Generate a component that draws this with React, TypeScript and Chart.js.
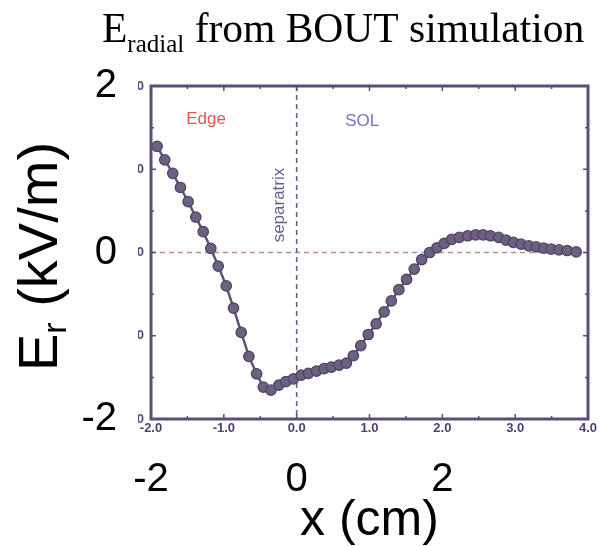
import { useEffect, useRef } from 'react';
import { Chart, registerables } from 'chart.js';

Chart.register(...registerables);

// ---- data ----
const xPositions = [
  -1.916, -1.811, -1.701, -1.596, -1.49, -1.385, -1.283, -1.179, -1.077, -0.967,
  -0.867, -0.761, -0.656, -0.55, -0.458, -0.353, -0.245, -0.149, -0.045, 0.062,
  0.161, 0.272, 0.376, 0.477, 0.582, 0.683, 0.779, 0.88, 0.983, 1.091,
  1.201, 1.3, 1.403, 1.509, 1.614, 1.716, 1.826, 1.926, 2.026, 2.128,
  2.233, 2.348, 2.458, 2.561, 2.662, 2.774, 2.875, 2.975, 3.081, 3.187,
  3.288, 3.393, 3.494, 3.6, 3.714, 3.838,
];
const erValues = [
  1.276, 1.113, 0.951, 0.781, 0.611, 0.425, 0.25, 0.049, -0.163, -0.401,
  -0.669, -0.96, -1.248, -1.457, -1.616, -1.653, -1.592, -1.552, -1.519, -1.473,
  -1.451, -1.424, -1.394, -1.376, -1.352, -1.33, -1.24, -1.119, -0.985, -0.856,
  -0.713, -0.58, -0.446, -0.324, -0.199, -0.085, 0.0, 0.057, 0.109, 0.158,
  0.182, 0.201, 0.212, 0.212, 0.201, 0.182, 0.149, 0.122, 0.101, 0.08,
  0.068, 0.052, 0.04, 0.032, 0.024, 0.007,
];
const outerXTicks = [-2, 0, 2];
const outerYTicks = [-2, 0, 2];
const innerXTicks = [-2, -1, 0, 1, 2, 3, 4];
const innerXTickLabels = ['-2.0', '-1.0', '0.0', '1.0', '2.0', '3.0', '4.0'];
const innerYTicks = [2, 1, 0, -1, -2];
const innerYTickLabels = ['2.0', '1.0', '0.0', '-1.0', '-2.0'];
const minorXTicks = [-1.5, -0.5, 0.5, 1.5, 2.5, 3.5];
const minorYTicks = [1.5, 0.5, -0.5, -1.5];
const regionLabels = ['Edge', 'SOL'];
const regionLabelX = [-1.244, 0.9];
const regionLabelY = [1.6, 1.57];
const regionLabelColors = ['#e5584f', '#7b70c8'];
const separatrixText = 'separatrix';
const separatrixX = -0.24;
const separatrixY = 0.57;

const SANS = '"Liberation Sans", Arial, sans-serif';
const SERIF = '"Liberation Serif", "Times New Roman", serif';
const FRAME = '#5a4d78';

const decorPlugin = {
  id: 'decor',
  beforeDatasetsDraw(chart: any) {
    const { ctx, chartArea: a, scales } = chart;
    const x = scales.x;
    const y = scales.y;
    ctx.save();
    ctx.setLineDash([5, 4]);
    ctx.lineWidth = 1.3;
    ctx.strokeStyle = '#b98a9c';
    const y0 = y.getPixelForValue(0);
    ctx.beginPath();
    ctx.moveTo(a.left, y0);
    ctx.lineTo(a.right, y0);
    ctx.stroke();
    ctx.strokeStyle = '#6b5e88';
    ctx.lineWidth = 1.6;
    const x0 = x.getPixelForValue(0);
    ctx.beginPath();
    ctx.moveTo(x0, a.top);
    ctx.lineTo(x0, a.bottom);
    ctx.stroke();
    ctx.restore();
  },
  afterDatasetsDraw(chart: any) {
    const { ctx, chartArea: a, scales } = chart;
    const x = scales.x;
    const y = scales.y;
    ctx.save();
    ctx.strokeStyle = FRAME;
    ctx.lineWidth = 3;
    ctx.strokeRect(a.left, a.top, a.right - a.left, a.bottom - a.top);
    ctx.lineWidth = 1.5;
    const tick = (px: number, len: number, horiz: boolean) => {
      ctx.beginPath();
      if (horiz) {
        ctx.moveTo(px, a.bottom);
        ctx.lineTo(px, a.bottom - len);
        ctx.moveTo(px, a.top);
        ctx.lineTo(px, a.top + len);
      } else {
        ctx.moveTo(a.left, px);
        ctx.lineTo(a.left + len, px);
        ctx.moveTo(a.right, px);
        ctx.lineTo(a.right - len, px);
      }
      ctx.stroke();
    };
    innerXTicks.forEach((v) => tick(x.getPixelForValue(v), 5, true));
    minorXTicks.forEach((v) => tick(x.getPixelForValue(v), 3, true));
    innerYTicks.forEach((v) => tick(y.getPixelForValue(v), 5, false));
    minorYTicks.forEach((v) => tick(y.getPixelForValue(v), 3, false));

    ctx.save();
    ctx.beginPath();
    ctx.rect(138, 0, 12, chart.height);
    ctx.clip();
    ctx.font = `bold 13px ${SANS}`;
    ctx.fillStyle = '#55467c';
    ctx.textAlign = 'right';
    ctx.textBaseline = 'middle';
    innerYTicks.forEach((v, i) => {
      ctx.fillText(innerYTickLabels[i], 144, y.getPixelForValue(v));
    });
    ctx.restore();

    ctx.font = `17px ${SANS}`;
    ctx.textAlign = 'center';
    ctx.textBaseline = 'middle';
    regionLabels.forEach((t, i) => {
      ctx.fillStyle = regionLabelColors[i];
      ctx.fillText(t, x.getPixelForValue(regionLabelX[i]), y.getPixelForValue(regionLabelY[i]));
    });
    ctx.save();
    ctx.translate(x.getPixelForValue(separatrixX), y.getPixelForValue(separatrixY));
    ctx.rotate(-Math.PI / 2);
    ctx.fillStyle = '#6a5c92';
    ctx.fillText(separatrixText, 0, 0);
    ctx.restore();
    ctx.restore();
  },
  afterDraw(chart: any) {
    const { ctx, chartArea: a } = chart;
    ctx.save();
    ctx.fillStyle = '#000';
    ctx.textAlign = 'left';
    ctx.textBaseline = 'alphabetic';
    let tx = 102;
    const base = 42;
    ctx.font = `41.5px ${SERIF}`;
    ctx.fillText('E', tx, base);
    tx += ctx.measureText('E').width;
    ctx.font = `25px ${SERIF}`;
    ctx.fillText('radial', tx, base + 10);
    tx += ctx.measureText('radial').width;
    ctx.font = `41.5px ${SERIF}`;
    ctx.fillText(' from BOUT simulation', tx, base);

    ctx.translate(57, (a.top + a.bottom) / 2 + 4);
    ctx.rotate(-Math.PI / 2);
    const big = 56;
    const small = 34;
    ctx.font = `${big}px ${SANS}`;
    const wE = ctx.measureText('E').width;
    const wRest = ctx.measureText(' (kV/m)').width;
    ctx.font = `${small}px ${SANS}`;
    const wR = ctx.measureText('r').width;
    let sx = -(wE + wR + wRest) / 2;
    ctx.font = `${big}px ${SANS}`;
    ctx.fillText('E', sx, 0);
    sx += wE;
    ctx.font = `${small}px ${SANS}`;
    ctx.fillText('r', sx, 9);
    sx += wR;
    ctx.font = `${big}px ${SANS}`;
    ctx.fillText(' (kV/m)', sx, 0);
    ctx.restore();
  },
};

export default function App() {
  const ref = useRef<HTMLCanvasElement | null>(null);
  useEffect(() => {
    if (!ref.current) return;
    const chart = new Chart(ref.current, {
      type: 'line',
      data: {
        datasets: [
          {
            data: xPositions.map((xv, i) => ({ x: xv, y: erValues[i] })),
            borderColor: '#5e5373',
            borderWidth: 2.5,
            pointRadius: 5.2,
            pointBackgroundColor: '#6c6180',
            pointBorderColor: '#4f4563',
            pointBorderWidth: 1.3,
            tension: 0,
          },
        ],
      },
      options: {
        animation: false,
        responsive: false,
        maintainAspectRatio: false,
        layout: { padding: { top: 86, right: 19, left: 0, bottom: 0 } },
        plugins: { legend: { display: false }, tooltip: { enabled: false }, title: { display: false } },
        scales: {
          xInner: {
            type: 'linear',
            min: -2,
            max: 4,
            position: 'bottom',
            weight: 0,
            grid: { display: false, drawTicks: false },
            border: { display: false },
            afterBuildTicks: (s: any) => {
              s.ticks = innerXTicks.map((v) => ({ value: v }));
            },
            afterFit: (s: any) => {
              s.height = 26;
            },
            ticks: {
              autoSkip: false,
              maxRotation: 0,
              padding: 2,
              color: '#4f4070',
              font: { family: SANS, size: 13, weight: 'bold' },
              callback: (_v: any, i: number) => innerXTickLabels[i],
            },
          },
          x: {
            type: 'linear',
            min: -2,
            max: 4,
            position: 'bottom',
            weight: 1,
            grid: { display: false, drawTicks: false },
            border: { display: false },
            afterBuildTicks: (s: any) => {
              s.ticks = outerXTicks.map((v) => ({ value: v }));
            },
            afterFit: (s: any) => {
              s.height = 101;
            },
            ticks: {
              autoSkip: false,
              maxRotation: 0,
              padding: 11,
              color: '#000',
              font: { family: SANS, size: 40 },
              callback: (v: any) => String(v),
            },
            title: {
              display: true,
              text: 'x (cm)',
              color: '#000',
              font: { family: SANS, size: 50, lineHeight: 1 },
              padding: { top: 0, bottom: 0 },
            },
          },
          y: {
            type: 'linear',
            min: -2,
            max: 2,
            position: 'left',
            grid: { display: false, drawTicks: false },
            border: { display: false },
            afterBuildTicks: (s: any) => {
              s.ticks = outerYTicks.map((v) => ({ value: v }));
            },
            afterFit: (s: any) => {
              s.width = 151;
            },
            ticks: {
              autoSkip: false,
              padding: 34,
              color: '#000',
              font: { family: SANS, size: 40 },
              callback: (v: any) => String(v),
            },
          },
        },
      },
      plugins: [decorPlugin],
    });
    return () => chart.destroy();
  }, []);
  return (
    <div style={{ position: 'absolute', left: 0, top: 0, width: 607, height: 546, background: '#fff' }}>
      <canvas ref={ref} width={607} height={546} style={{ display: 'block', width: 607, height: 546 }} />
    </div>
  );
}
